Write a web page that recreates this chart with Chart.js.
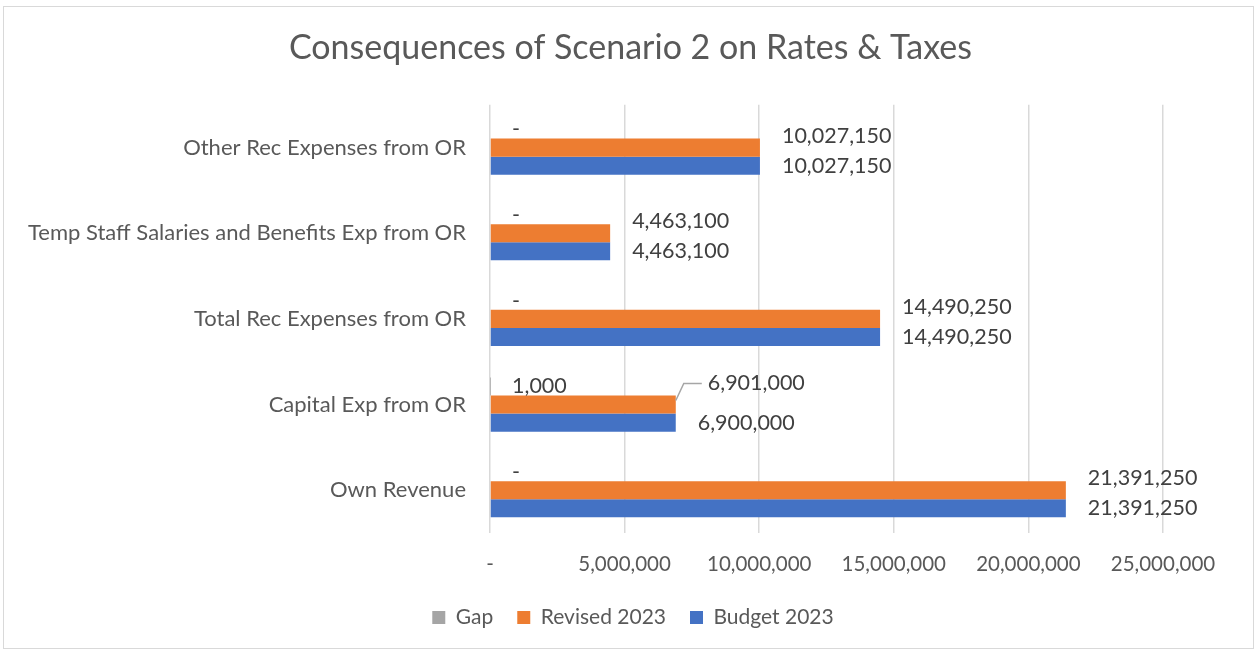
<!DOCTYPE html>
<html>
<head>
<meta charset="utf-8">
<script src="https://cdn.jsdelivr.net/npm/chart.js@4.4.1/dist/chart.umd.min.js"></script>
<style>
  html, body { margin: 0; padding: 0; background: #fff; }
  #wrap { position: absolute; left: 0; top: 0; width: 1256px; height: 652px; }
  #frame { position: absolute; left: 3px; top: 6px; width: 1249px; height: 641px; border: 1px solid #d9d9d9; pointer-events: none; }
</style>
</head>
<body>
<div id="wrap">
  <canvas id="chart" width="1256" height="652"></canvas>
  <div id="frame"></div>
</div>
<script>
const categories = [
  "Other Rec Expenses from OR",
  "Temp Staff Salaries and Benefits Exp from OR",
  "Total Rec Expenses from OR",
  "Capital Exp from OR",
  "Own Revenue"
];
const gap = [0, 0, 0, 1000, 0];
const revised2023 = [10027150, 4463100, 14490250, 6901000, 21391250];
const budget2023 = [10027150, 4463100, 14490250, 6900000, 21391250];
const xTicks = [0, 5000000, 10000000, 15000000, 20000000, 25000000];

const FONT = "Lato";
const fmt = v => v === 0 ? "-" : v.toLocaleString("en-US");

// draws the Excel-like value labels next to the bar ends
const valueLabels = {
  id: "valueLabels",
  afterDatasetsDraw(chart) {
    const ctx = chart.ctx;
    ctx.save();
    ctx.font = "21.5px " + FONT;
    ctx.fillStyle = "#404040";
    ctx.textAlign = "left";
    ctx.textBaseline = "middle";
    chart.data.datasets.forEach((ds, di) => {
      const meta = chart.getDatasetMeta(di);
      meta.data.forEach((bar, i) => {
        let x = bar.x + 22;
        let y = bar.y;
        if (di === 1) {
          if (gap[i] !== 0) {
            // pushed away from the gap label, with a leader line
            x = bar.x + 32;
            y = bar.y - 21;
            ctx.strokeStyle = "#a6a6a6";
            ctx.lineWidth = 1.5;
            ctx.beginPath();
            ctx.moveTo(bar.x, bar.y - 4);
            ctx.lineTo(bar.x + 8, y);
            ctx.lineTo(bar.x + 26, y);
            ctx.stroke();
          } else {
            y = bar.y - 12;
          }
        }
        ctx.fillText(fmt(ds.data[i]), x, y);
      });
    });
    ctx.restore();
  }
};

// title and legend are centred on the whole frame, not on the plot
const recentre = {
  id: "recentre",
  afterLayout(chart) {
    if (chart.titleBlock) { chart.titleBlock.left = 0; chart.titleBlock.right = 1261; }
    if (chart.legend) { chart.legend.left = 0; chart.legend.right = 1266; }
  }
};

new Chart(document.getElementById("chart"), {
  type: "bar",
  data: {
    labels: categories,
    datasets: [
      { label: "Gap", data: gap, backgroundColor: "#a5a5a5" },
      { label: "Revised 2023", data: revised2023, backgroundColor: "#ed7d31" },
      { label: "Budget 2023", data: budget2023, backgroundColor: "#4472c4" }
    ]
  },
  options: {
    indexAxis: "y",
    responsive: false,
    animation: false,
    categoryPercentage: 0.633,
    barPercentage: 1,
    layout: { padding: { left: 0, right: 93, top: 18, bottom: 14 } },
    plugins: {
      title: {
        display: true,
        text: "Consequences of Scenario 2 on Rates & Taxes",
        color: "#595959",
        font: { family: FONT, size: 34, weight: "normal" },
        padding: { top: 10, bottom: 36 }
      },
      legend: {
        position: "bottom",
        labels: {
          color: "#595959",
          font: { family: FONT, size: 21 },
          boxWidth: 13,
          boxHeight: 13,
          padding: 24
        }
      },
      tooltip: { enabled: false }
    },
    scales: {
      x: {
        min: 0,
        max: 25000000,
        afterBuildTicks: s => { s.ticks = xTicks.map(v => ({ value: v })); },
        afterFit: s => { s.height = 50; },
        ticks: {
          color: "#595959",
          font: { family: FONT, size: 20.5 },
          padding: 19,
          maxRotation: 0,
          callback: v => fmt(v)
        },
        grid: { color: "#d9d9d9", lineWidth: 1.5, drawTicks: false },
        border: { display: false }
      },
      y: {
        afterFit: s => { s.width = 490; },
        ticks: {
          color: "#595959",
          font: { family: FONT, size: 22 },
          padding: 24
        },
        grid: { display: false, drawTicks: false },
        border: { display: false }
      }
    }
  },
  plugins: [valueLabels, recentre]
});
</script>
</body>
</html>
